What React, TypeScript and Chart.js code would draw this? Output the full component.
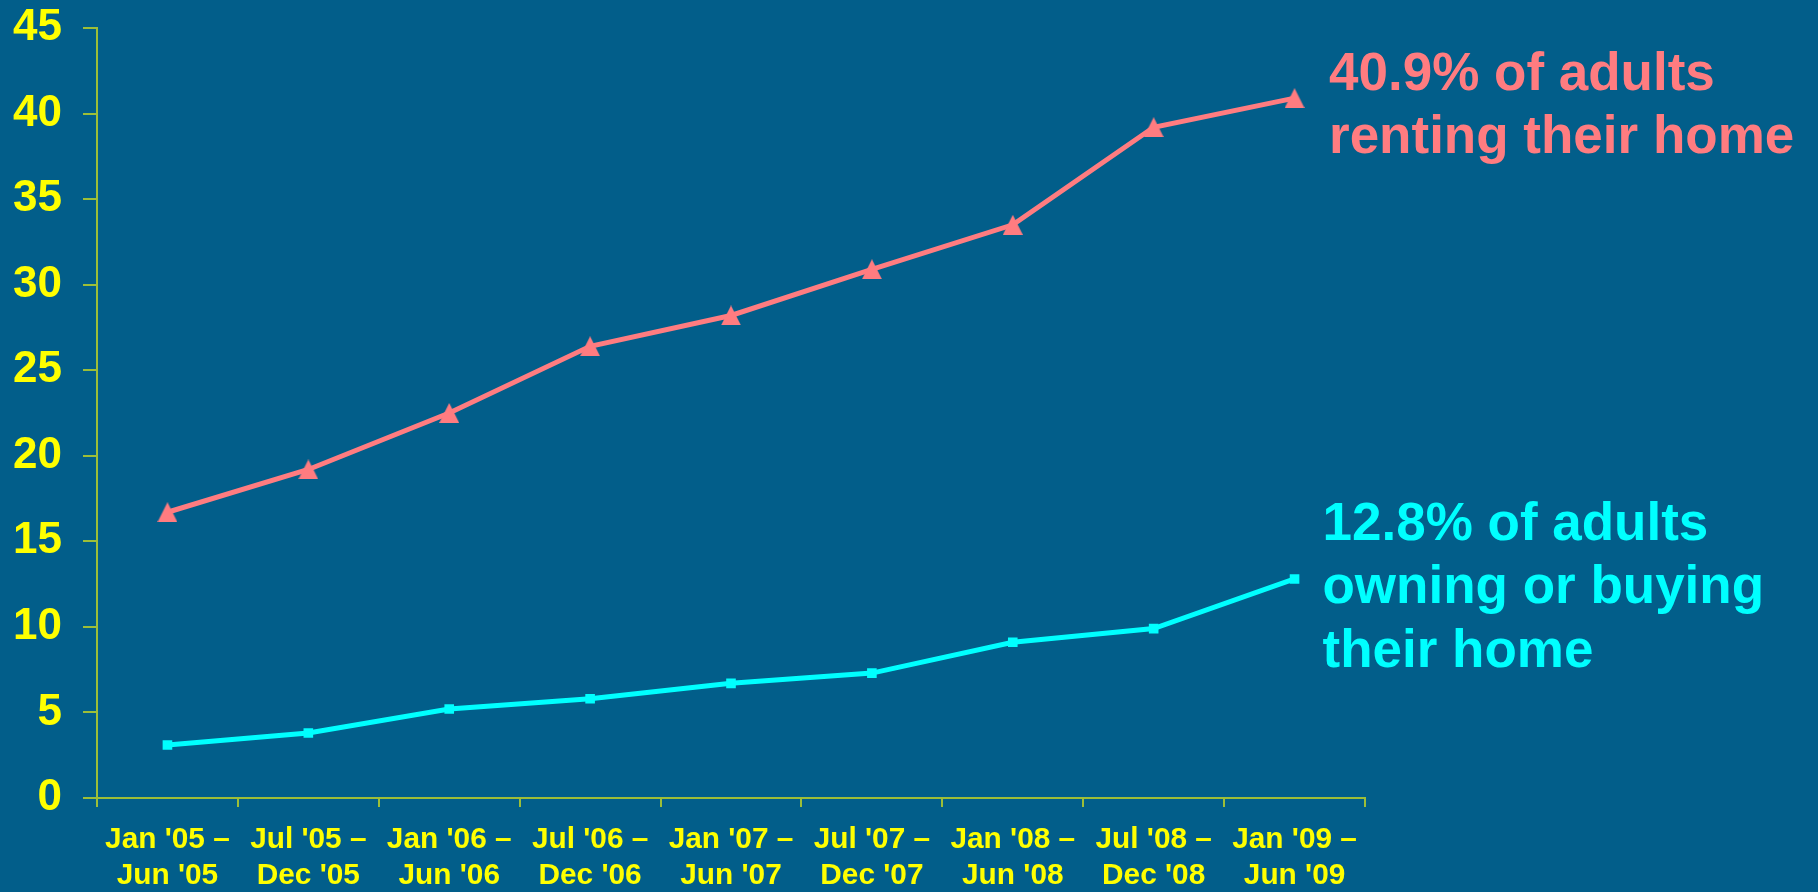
import React, { useEffect, useRef } from "react";
import { Chart, registerables } from "chart.js";

Chart.register(...registerables);

const categories: string[][] = [
  ["Jan '05 –", "Jun '05"],
  ["Jul '05 –", "Dec '05"],
  ["Jan '06 –", "Jun '06"],
  ["Jul '06 –", "Dec '06"],
  ["Jan '07 –", "Jun '07"],
  ["Jul '07 –", "Dec '07"],
  ["Jan '08 –", "Jun '08"],
  ["Jul '08 –", "Dec '08"],
  ["Jan '09 –", "Jun '09"],
];

const rentingValues: number[] = [16.7, 19.2, 22.5, 26.4, 28.2, 30.9, 33.5, 39.2, 40.9];
const owningValues: number[] = [3.1, 3.8, 5.2, 5.8, 6.7, 7.3, 9.1, 9.9, 12.8];

const rentingLabel: string[] = ["40.9% of adults", "renting their home"];
const owningLabel: string[] = ["12.8% of adults", "owning or buying", "their home"];

const BG = "#025E8A";
const PINK = "#FF7C80";
const CYAN = "#00FFFF";
const YELLOW = "#FFFF00";
const AXIS = "#9DBE38";
const FONT = "'Liberation Sans', Arial, Helvetica, sans-serif";

function makeTriangle(color: string, w: number, h: number): HTMLCanvasElement {
  const c = document.createElement("canvas");
  c.width = w;
  c.height = h;
  const g = c.getContext("2d")!;
  g.fillStyle = color;
  g.beginPath();
  g.moveTo(w / 2, 0);
  g.lineTo(w, h);
  g.lineTo(0, h);
  g.closePath();
  g.fill();
  return c;
}

const annotationPlugin = {
  id: "sideLabels",
  afterDraw(chart: any) {
    const { ctx, chartArea } = chart;
    ctx.save();
    ctx.font = `bold 53px ${FONT}`;
    ctx.textAlign = "left";
    ctx.textBaseline = "alphabetic";
    const lh = 63.3;
    ctx.fillStyle = PINK;
    rentingLabel.forEach((t, i) => {
      ctx.fillText(t, chartArea.right - 36, 90 + i * lh);
    });
    ctx.fillStyle = CYAN;
    owningLabel.forEach((t, i) => {
      ctx.fillText(t, chartArea.right - 42.5, 540 + i * lh);
    });
    ctx.restore();
  },
};

export default function App() {
  const ref = useRef<HTMLCanvasElement | null>(null);

  useEffect(() => {
    if (!ref.current) return;
    const tri = makeTriangle(PINK, 20, 20);
    const chart = new Chart(ref.current, {
      type: "line",
      data: {
        labels: categories as any,
        datasets: [
          {
            label: "Renting",
            data: rentingValues,
            borderColor: PINK,
            backgroundColor: PINK,
            borderWidth: 5,
            pointStyle: tri as any,
            pointRadius: 10,
            pointBackgroundColor: PINK,
            pointBorderWidth: 0,
            tension: 0,
          },
          {
            label: "Owning",
            data: owningValues,
            borderColor: CYAN,
            backgroundColor: CYAN,
            borderWidth: 5,
            pointStyle: "rect",
            pointRadius: 6.8,
            pointBackgroundColor: CYAN,
            pointBorderWidth: 0,
            tension: 0,
          },
        ],
      },
      options: {
        animation: false,
        responsive: true,
        maintainAspectRatio: false,
        layout: { padding: { top: 28, right: 453, bottom: 0, left: 0 } },
        plugins: {
          legend: { display: false },
          tooltip: { enabled: false },
        },
        scales: {
          x: {
            type: "category",
            offset: true,
            grid: {
              offset: true,
              drawOnChartArea: false,
              drawTicks: true,
              tickLength: 9,
              color: AXIS,
              lineWidth: 2,
            },
            border: { display: true, color: AXIS, width: 2 },
            ticks: {
              color: YELLOW,
              font: { family: FONT, size: 29.8, weight: "bold", lineHeight: 1.23 },
              padding: 14,
              maxRotation: 0,
              autoSkip: false,
            },
            afterFit(scale: any) {
              scale.height = 94;
              scale.paddingLeft = 0;
              scale.paddingRight = 0;
            },
          },
          y: {
            min: 0,
            max: 45,
            grid: {
              drawOnChartArea: false,
              drawTicks: true,
              tickLength: 14,
              color: AXIS,
              lineWidth: 2,
            },
            border: { display: true, color: AXIS, width: 2 },
            ticks: {
              stepSize: 5,
              color: YELLOW,
              font: { family: FONT, size: 44, weight: "bold" },
              padding: 21,
            },
            afterFit(scale: any) {
              scale.width = 97;
              scale.paddingTop = 0;
              scale.paddingBottom = 0;
            },
          },
        },
      } as any,
      plugins: [annotationPlugin],
    });
    return () => chart.destroy();
  }, []);

  return (
    <div
      style={{
        position: "fixed",
        left: 0,
        top: 0,
        width: 1818,
        height: 892,
        background: BG,
      }}
    >
      <canvas ref={ref} />
    </div>
  );
}
